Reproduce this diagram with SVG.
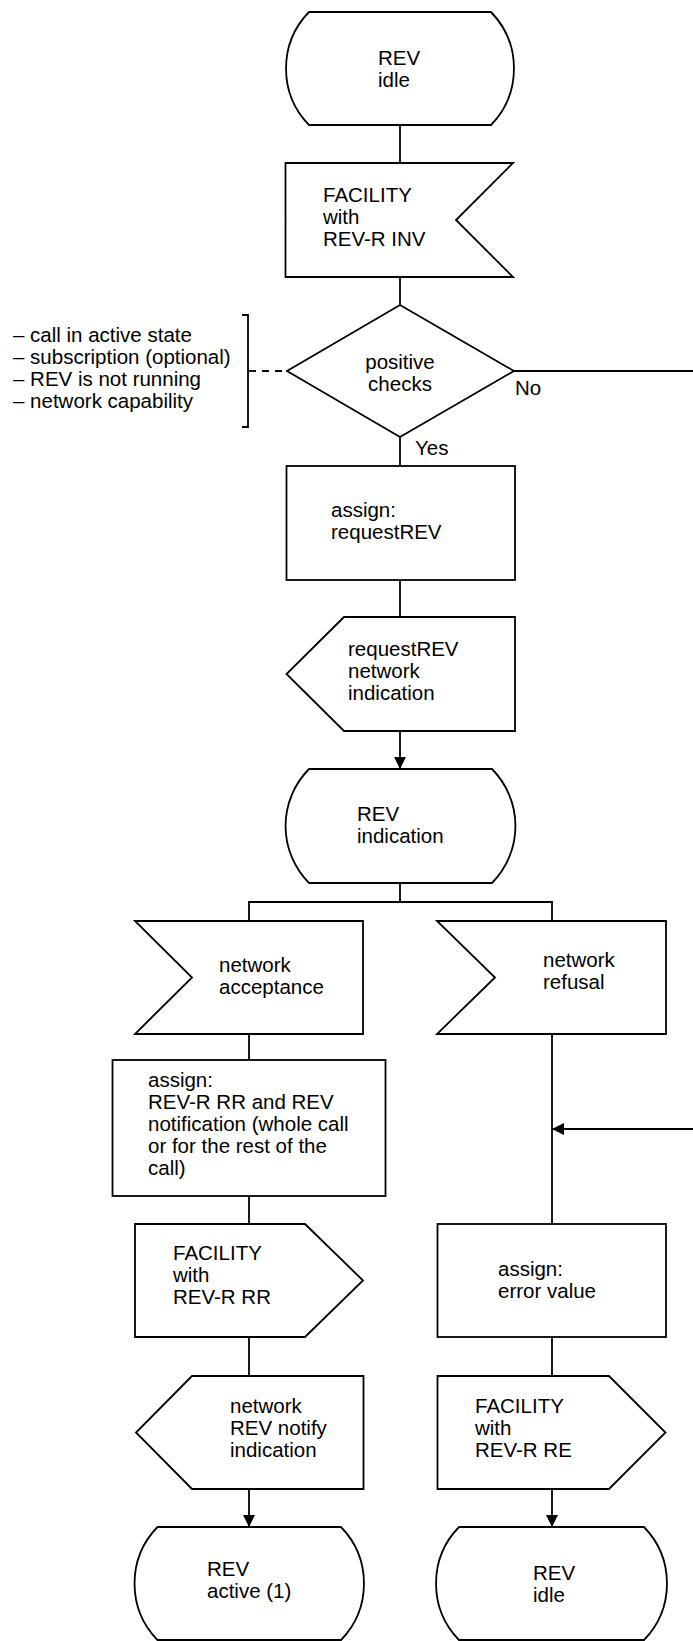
<svg xmlns="http://www.w3.org/2000/svg" width="693" height="1641" viewBox="0 0 693 1641">
<style>
.s{fill:#fff;stroke:#000;stroke-width:1.8;stroke-linejoin:miter}
.c{fill:none;stroke:#000;stroke-width:1.8}
.a{marker-end:url(#ah)}
text{font-family:"Liberation Sans",Arial,sans-serif;font-size:20.5px;fill:#000}
.m{text-anchor:middle}
</style>
<defs>
<marker id="ah" viewBox="0 0 12 12" refX="12" refY="6" markerWidth="12" markerHeight="12" markerUnits="userSpaceOnUse" orient="auto">
<path d="M0,0 L12,6 L0,12 Z" fill="#000"/>
</marker>
</defs>
<rect width="693" height="1641" fill="#fff"/>
<g id="connectors">
<line class="c" x1="400" y1="125" x2="400" y2="163"/>
<line class="c" x1="400" y1="277" x2="400" y2="305"/>
<line class="c" x1="400" y1="437" x2="400" y2="466"/>
<line class="c" x1="400" y1="580" x2="400" y2="617"/>
<line class="c a" x1="400" y1="731" x2="400" y2="769"/>
<polyline class="c" points="400,883 400,902"/>
<polyline class="c" points="249,921 249,902 552,902 552,921"/>
<line class="c" x1="249" y1="1034" x2="249" y2="1060"/>
<line class="c" x1="249" y1="1196" x2="249" y2="1224"/>
<line class="c" x1="249" y1="1337" x2="249" y2="1376"/>
<line class="c a" x1="249" y1="1489" x2="249" y2="1527"/>
<line class="c" x1="552" y1="1034" x2="552" y2="1224"/>
<line class="c a" x1="693" y1="1129" x2="552" y2="1129"/>
<line class="c" x1="552" y1="1337" x2="552" y2="1376"/>
<line class="c a" x1="552" y1="1489" x2="552" y2="1527"/>
<line class="c" x1="514" y1="371" x2="693" y2="371"/>
<line class="c" x1="249" y1="371" x2="287" y2="371" stroke-dasharray="7,6"/>
<text x="515" y="395">No</text>
<text x="415" y="455">Yes</text>
</g>
<g id="comment">
<path class="c" d="M242,315 H248 V427 H242"/>
<text x="13" y="342">– call in active state</text>
<text x="13" y="364">– subscription (optional)</text>
<text x="13" y="386">– REV is not running</text>
<text x="13" y="408">– network capability</text>
</g>
<g id="rev-idle-start">
<path class="s" d="M309,12 H491 A81,81 0 0 1 491,125 H309 A81,81 0 0 1 309,12 Z"/>
<text x="378" y="65">REV</text>
<text x="378" y="87">idle</text>
</g>
<g id="facility-inv">
<path class="s" d="M285.5,163 H513 L456,220 L513,277 H285.5 Z"/>
<text x="323" y="202">FACILITY</text>
<text x="323" y="224">with</text>
<text x="323" y="246">REV-R INV</text>
</g>
<g id="positive-checks">
<path class="s" d="M400,305 L514,371 L400,437 L287,371 Z"/>
<text class="m" x="400" y="369">positive</text>
<text class="m" x="400" y="391">checks</text>
</g>
<g id="assign-request">
<rect class="s" x="286.5" y="466" width="228.5" height="114"/>
<text x="331" y="517">assign:</text>
<text x="331" y="539">requestREV</text>
</g>
<g id="request-indication">
<path class="s" d="M344,617 H515 V731 H344 L286.5,674 Z"/>
<text x="348" y="656">requestREV</text>
<text x="348" y="678">network</text>
<text x="348" y="700">indication</text>
</g>
<g id="rev-indication">
<path class="s" d="M309,769 H492 A81,81 0 0 1 492,883 H309 A81,81 0 0 1 309,769 Z"/>
<text x="357" y="821">REV</text>
<text x="357" y="843">indication</text>
</g>
<g id="network-acceptance">
<path class="s" d="M135,921 H363 V1034 H135 L192,977.5 Z"/>
<text x="219" y="972">network</text>
<text x="219" y="994">acceptance</text>
</g>
<g id="network-refusal">
<path class="s" d="M437,921 H666 V1034 H437 L495,977.5 Z"/>
<text x="543" y="967">network</text>
<text x="543" y="989">refusal</text>
</g>
<g id="assign-rr">
<rect class="s" x="112.5" y="1060" width="273" height="136"/>
<text x="148" y="1087">assign:</text>
<text x="148" y="1109">REV-R RR and REV</text>
<text x="148" y="1131">notification (whole call</text>
<text x="148" y="1153">or for the rest of the</text>
<text x="148" y="1175">call)</text>
</g>
<g id="facility-rr">
<path class="s" d="M135,1224 H305 L363,1280.5 L305,1337 H135 Z"/>
<text x="173" y="1260">FACILITY</text>
<text x="173" y="1282">with</text>
<text x="173" y="1304">REV-R RR</text>
</g>
<g id="assign-error">
<rect class="s" x="437.5" y="1224" width="228.5" height="113"/>
<text x="498" y="1276">assign:</text>
<text x="498" y="1298">error value</text>
</g>
<g id="notify-indication">
<path class="s" d="M192,1376 H363.5 V1489 H192 L136,1432.5 Z"/>
<text x="230" y="1413">network</text>
<text x="230" y="1435">REV notify</text>
<text x="230" y="1457">indication</text>
</g>
<g id="facility-re">
<path class="s" d="M437.5,1376 H609 L665.5,1432.5 L609,1489 H437.5 Z"/>
<text x="475" y="1413">FACILITY</text>
<text x="475" y="1435">with</text>
<text x="475" y="1457">REV-R RE</text>
</g>
<g id="rev-active">
<path class="s" d="M157.5,1527 H341 A81,81 0 0 1 341,1640 H157.5 A81,81 0 0 1 157.5,1527 Z"/>
<text x="207" y="1576">REV</text>
<text x="207" y="1598">active (1)</text>
</g>
<g id="rev-idle-end">
<path class="s" d="M459,1527 H644 A81,81 0 0 1 644,1640 H459 A81,81 0 0 1 459,1527 Z"/>
<text x="533" y="1580">REV</text>
<text x="533" y="1602">idle</text>
</g>
</svg>
